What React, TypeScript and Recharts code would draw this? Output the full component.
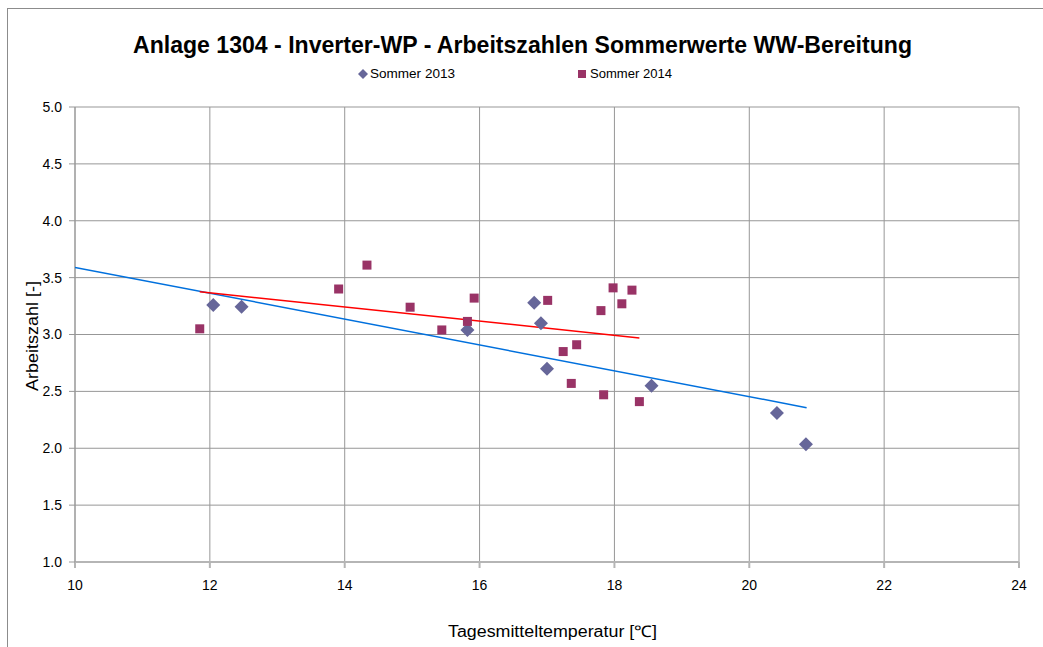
import { ScatterChart, Scatter, XAxis, YAxis, CartesianGrid } from 'recharts';

const X_TICKS = [10, 12, 14, 16, 18, 20, 22, 24];
const Y_TICKS = [1.0, 1.5, 2.0, 2.5, 3.0, 3.5, 4.0, 4.5, 5.0];

// Sommer 2013: Tagesmitteltemperatur / Arbeitszahl
const S2013_TEMP = [12.05, 12.47, 15.82, 16.81, 16.91, 17.0, 18.55, 20.41, 20.84];
const S2013_AZ = [3.26, 3.245, 3.04, 3.28, 3.1, 2.7, 2.55, 2.31, 2.035];

// Sommer 2014
const S2014_TEMP = [11.85, 13.91, 14.33, 14.97, 15.44, 15.82, 15.92, 17.01, 17.24, 17.44, 17.36, 17.84, 17.8, 17.98, 18.11, 18.26, 18.37];
const S2014_AZ = [3.05, 3.4, 3.61, 3.24, 3.04, 3.115, 3.32, 3.3, 2.85, 2.91, 2.57, 2.47, 3.21, 3.41, 3.27, 3.39, 2.41];

// trend lines, end points
const TREND_2013_TEMP = [10, 20.85];
const TREND_2013_AZ = [3.59, 2.357];
const TREND_2014_TEMP = [11.85, 18.37];
const TREND_2014_AZ = [3.376, 2.97];

const DIAMOND_COLOR = '#666699';
const SQUARE_COLOR = '#993366';
const GRID = '#979797';
const FONT = '"Liberation Sans", Arial, sans-serif';

const zip = (xs: number[], ys: number[]) => xs.map((x, i) => ({ x, y: ys[i] }));

function Diamond(props: any) {
  const { cx, cy } = props;
  const r = 7;
  return <path d={`M${cx},${cy - r}L${cx + r},${cy}L${cx},${cy + r}L${cx - r},${cy}Z`} fill={DIAMOND_COLOR} />;
}

function Square(props: any) {
  const { cx, cy } = props;
  return <rect x={cx - 4.5} y={cy - 4.5} width={9} height={9} fill={SQUARE_COLOR} />;
}

const NoDot = () => <g />;

export default function App() {
  return (
    <div style={{ position: 'absolute', left: 0, top: 0, width: 1043, height: 647, overflow: 'hidden', background: '#fff' }}>
      <div style={{ position: 'absolute', left: 7, top: 8, width: 1200, height: 800, border: '1px solid #8c8c8c' }} />
      <div style={{ position: 'absolute', left: 0, top: 0 }}>
        <ScatterChart width={1043} height={647} margin={{ top: 107, right: 24, left: 0, bottom: 0 }}>
          <CartesianGrid stroke={GRID} strokeWidth={1} />
          <XAxis
            type="number"
            dataKey="x"
            domain={[10, 24]}
            ticks={X_TICKS}
            allowDataOverflow
            height={85}
            tickSize={6}
            tickMargin={12}
            stroke="#b5b5b5"
            strokeWidth={2}
            tick={{ fontSize: 14, fill: '#000', fontFamily: FONT }}
          />
          <YAxis
            type="number"
            dataKey="y"
            domain={[1, 5]}
            ticks={Y_TICKS}
            allowDataOverflow
            width={75}
            tickSize={6}
            tickMargin={7}
            stroke={GRID}
            tickFormatter={(v: number) => v.toFixed(1)}
            tick={{ fontSize: 14, fill: '#000', fontFamily: FONT }}
          />
          <Scatter name="Trend 2013" data={zip(TREND_2013_TEMP, TREND_2013_AZ)} line={{ stroke: '#0070dd', strokeWidth: 1.5 }} shape={NoDot} isAnimationActive={false} />
          <Scatter name="Trend 2014" data={zip(TREND_2014_TEMP, TREND_2014_AZ)} line={{ stroke: '#ff0000', strokeWidth: 1.5 }} shape={NoDot} isAnimationActive={false} />
          <Scatter name="Sommer 2013" data={zip(S2013_TEMP, S2013_AZ)} shape={Diamond} isAnimationActive={false} />
          <Scatter name="Sommer 2014" data={zip(S2014_TEMP, S2014_AZ)} shape={Square} isAnimationActive={false} />
        </ScatterChart>
      </div>
      <svg width={1043} height={647} style={{ position: 'absolute', left: 0, top: 0, pointerEvents: 'none' }}>
        <text x={133} y={53} fontSize={23} fontWeight="bold" fontFamily={FONT} textLength={779} lengthAdjust="spacingAndGlyphs" fill="#000">
          Anlage 1304 - Inverter-WP - Arbeitszahlen Sommerwerte WW-Bereitung
        </text>
        <path d="M363,69L368,74L363,79L358,74Z" fill={DIAMOND_COLOR} />
        <text x={370} y={78} fontSize={12} fontFamily={FONT} textLength={85} lengthAdjust="spacingAndGlyphs" fill="#000">Sommer 2013</text>
        <rect x={578} y={70} width={8} height={8} fill={SQUARE_COLOR} />
        <text x={590} y={78} fontSize={12} fontFamily={FONT} textLength={82} lengthAdjust="spacingAndGlyphs" fill="#000">Sommer 2014</text>
        <text x={32} y={336} transform="rotate(-90 32 336)" textAnchor="middle" dominantBaseline="central" fontSize={16} fontFamily={FONT} textLength={110} lengthAdjust="spacingAndGlyphs" fill="#000">
          Arbeitszahl [-]
        </text>
        <text x={448} y={637} fontSize={16} fontFamily={FONT} textLength={209} lengthAdjust="spacingAndGlyphs" fill="#000">
          Tagesmitteltemperatur [℃]
        </text>
      </svg>
    </div>
  );
}
